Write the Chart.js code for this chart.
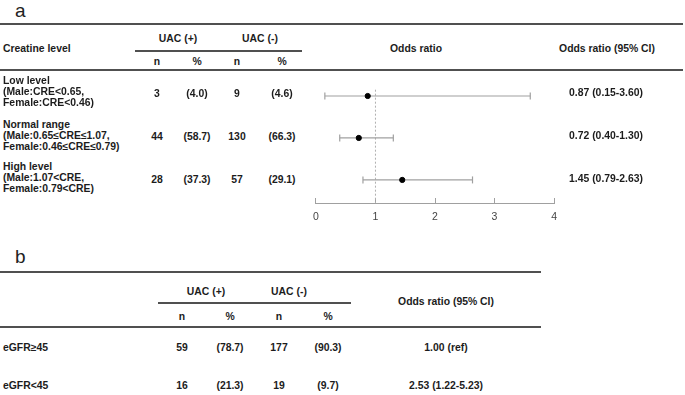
<!DOCTYPE html>
<html>
<head>
<meta charset="utf-8">
<script src="https://cdn.jsdelivr.net/npm/chart.js@4/dist/chart.umd.min.js"></script>
<style>
  html, body { margin: 0; padding: 0; background: #fff; }
  #page { position: relative; width: 685px; height: 395px; overflow: hidden; background: #fff;
          font-family: "Liberation Sans", Arial, sans-serif; color: #1c1c1c; }
  .t { position: absolute; white-space: nowrap; line-height: 1; font-size: 10.4px; font-weight: bold; }
  .rule { position: absolute; background: #505050; }
  #chartBox { position: absolute; left: 300px; top: 60px; width: 270px; height: 180px; }
</style>
</head>
<body>
<div id="page">
  <div id="chartBox"><canvas id="forest" width="270" height="180"></canvas></div>
</div>
<script>
// ---------------- DATA ----------------
// Panel a
const creatineLevels = [
  ["Low level", "(Male:CRE<0.65,", "Female:CRE<0.46)"],
  ["Normal range", "(Male:0.65\u2264CRE\u22641.07,", "Female:0.46\u2264CRE\u22640.79)"],
  ["High level", "(Male:1.07<CRE,", "Female:0.79<CRE)"]
];
const uacPosN   = [3, 44, 28];
const uacPosPct = [4.0, 58.7, 37.3];
const uacNegN   = [9, 130, 57];
const uacNegPct = [4.6, 66.3, 29.1];
const oddsRatio = [0.87, 0.72, 1.45];
const ciLower   = [0.15, 0.40, 0.79];
const ciUpper   = [3.60, 1.30, 2.63];
const xTicks    = [0, 1, 2, 3, 4];

// Panel b
const egfrGroups  = ["eGFR\u226545", "eGFR<45"];
const bPosN       = [59, 16];
const bPosPct     = [78.7, 21.3];
const bNegN       = [177, 19];
const bNegPct     = [90.3, 9.7];
const bOddsLabels = ["1.00 (ref)", "2.53 (1.22-5.23)"];

// ---------------- TEXT / RULES ----------------
const page = document.getElementById('page');
function put(text, x, y, align, extra) {
  const d = document.createElement('div');
  d.className = 't';
  d.textContent = text;
  d.style.left = x + 'px';
  d.style.top = y + 'px';
  if (align === 'left') d.style.transform = 'translateY(-50%)';
  else if (align === 'center') d.style.transform = 'translate(-50%,-50%)';
  if (extra) Object.assign(d.style, extra);
  page.appendChild(d);
  return d;
}
function rule(x1, x2, y, h) {
  const d = document.createElement('div');
  d.className = 'rule';
  d.style.left = x1 + 'px';
  d.style.width = (x2 - x1) + 'px';
  d.style.top = (y - h / 2) + 'px';
  d.style.height = h + 'px';
  page.appendChild(d);
}
const pct = v => '(' + v.toFixed(1) + ')';
const big = { fontSize: '19px', fontWeight: 'normal', color: '#222', lineHeight: 'normal' };

// Panel a
put('a', 15, 0, 'top', big);
rule(0, 683, 24, 2);
put('Creatine level', 3, 49, 'left');
put('UAC (+)', 178, 39, 'center');
put('UAC (-)', 260, 39, 'center');
rule(135, 302, 51, 1.6);
put('n', 157, 62, 'center');
put('%', 197, 62, 'center');
put('n', 237, 62, 'center');
put('%', 282, 62, 'center');
put('Odds ratio', 416, 49, 'center');
put('Odds ratio (95% CI)', 607, 49, 'center');
rule(0, 683, 70, 2);

const rowY = [94, 137, 180];
const labelMid = [92, 136, 178];
creatineLevels.forEach((lines, i) => {
  lines.forEach((ln, k) => put(ln, 3, labelMid[i] + (k - 1) * 11.3, 'left'));
  put(String(uacPosN[i]), 157, rowY[i], 'center');
  put(pct(uacPosPct[i]), 197, rowY[i], 'center');
  put(String(uacNegN[i]), 237, rowY[i], 'center');
  put(pct(uacNegPct[i]), 282, rowY[i], 'center');
  put(oddsRatio[i].toFixed(2) + ' (' + ciLower[i].toFixed(2) + '-' + ciUpper[i].toFixed(2) + ')',
      606, rowY[i] - 1, 'center');
});

// Panel b
put('b', 15, 246, 'top', big);
rule(0, 541, 272, 2);
put('UAC (+)', 206, 292, 'center');
put('UAC (-)', 289, 292, 'center');
rule(158, 351, 303, 1.6);
put('Odds ratio (95% CI)', 446, 302, 'center');
put('n', 182, 317, 'center');
put('%', 230, 317, 'center');
put('n', 279, 317, 'center');
put('%', 328, 317, 'center');
rule(0, 541, 327, 2);
const bRowY = [348, 386];
egfrGroups.forEach((g, i) => {
  put(g, 3, bRowY[i], 'left');
  put(String(bPosN[i]), 182, bRowY[i], 'center');
  put(pct(bPosPct[i]), 230, bRowY[i], 'center');
  put(String(bNegN[i]), 279, bRowY[i], 'center');
  put(pct(bNegPct[i]), 328, bRowY[i], 'center');
  put(bOddsLabels[i], 446, bRowY[i], 'center');
});

// ---------------- FOREST PLOT (Chart.js) ----------------
const ciDatasets = oddsRatio.map((_, i) => ({
  type: 'line',
  data: [{ x: ciLower[i], y: i + 1 }, { x: ciUpper[i], y: i + 1 }],
  borderColor: '#a0a0a0',
  borderWidth: 1.2,
  pointStyle: 'line',
  pointRotation: 90,
  pointRadius: 3.5,
  pointBorderColor: '#a0a0a0',
  pointBorderWidth: 1.2,
  pointHoverRadius: 3.5,
  order: 2
}));

new Chart(document.getElementById('forest'), {
  type: 'scatter',
  data: {
    datasets: [
      {
        type: 'line',
        data: [{ x: 1, y: 0.85 }, { x: 1, y: 3.55 }],
        borderColor: '#b0b0b0',
        borderWidth: 1,
        borderDash: [2, 2],
        pointRadius: 0,
        order: 3
      },
      ...ciDatasets,
      {
        type: 'scatter',
        data: oddsRatio.map((v, i) => ({ x: v, y: i + 1 })),
        backgroundColor: '#000',
        borderColor: '#000',
        pointRadius: 2.6,
        pointBorderWidth: 1,
        order: 1
      }
    ]
  },
  options: {
    responsive: false,
    devicePixelRatio: 1,
    animation: false,
    layout: { padding: { left: 13, right: 13, top: 15, bottom: 0 } },
    plugins: { legend: { display: false }, tooltip: { enabled: false }, title: { display: false } },
    scales: {
      x: {
        type: 'linear',
        min: xTicks[0],
        max: xTicks[xTicks.length - 1],
        afterBuildTicks: axis => { axis.ticks = xTicks.map(v => ({ value: v })); },
        afterFit: axis => { axis.height = 37; },
        grid: { display: true, drawOnChartArea: false, drawTicks: true, tickLength: -5, color: '#a0a0a0', lineWidth: 1 },
        border: { display: true, color: '#a0a0a0', width: 1 },
        ticks: { padding: 13, color: '#444', font: { family: '"Liberation Sans", Arial, sans-serif', size: 10.5 } }
      },
      y: {
        type: 'linear',
        reverse: true,
        min: 0.5,
        max: 3.55,
        display: false
      }
    }
  }
});
</script>
</body>
</html>
